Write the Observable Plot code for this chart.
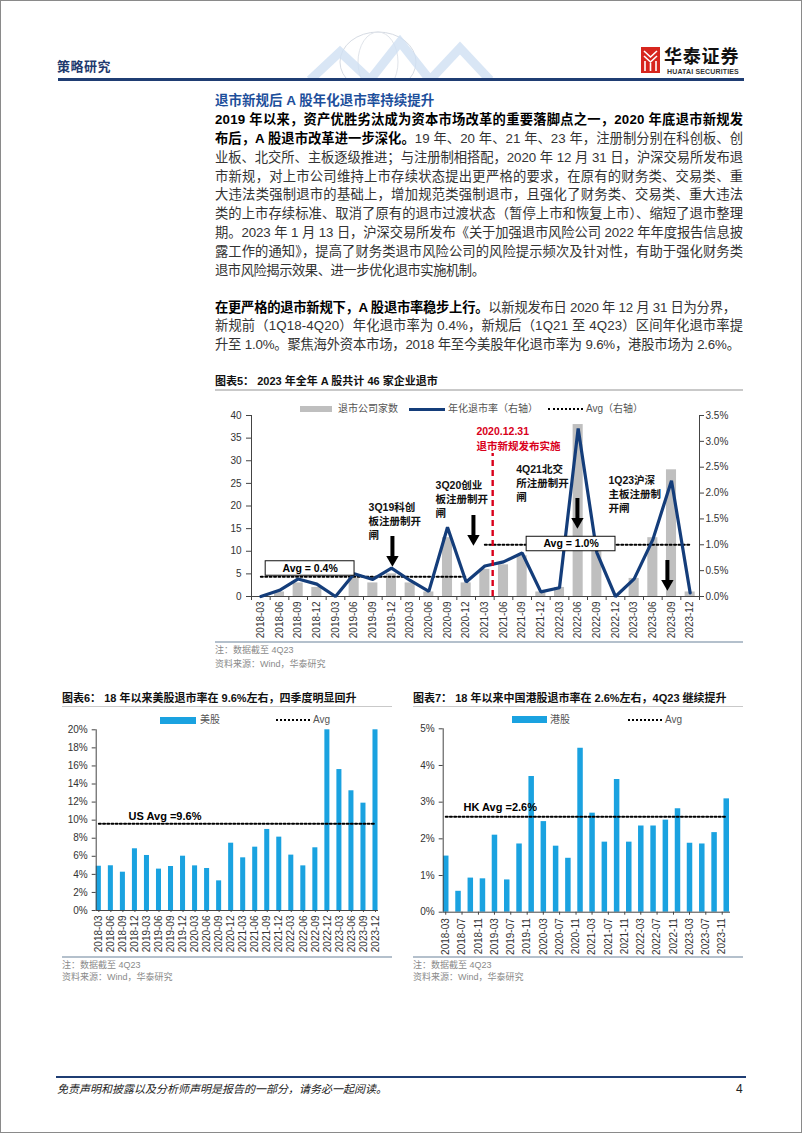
<!DOCTYPE html>
<html><head><meta charset="utf-8">
<script src="https://cdn.jsdelivr.net/npm/d3@7"></script>
<script src="https://cdn.jsdelivr.net/npm/@observablehq/plot@0.6"></script>
<style>
html,body{margin:0;padding:0;background:#fff;}
body{width:802px;height:1133px;position:relative;overflow:hidden;font-family:"Liberation Sans","Noto Sans CJK SC",sans-serif;color:#222;}
.abs{position:absolute;}
.border{position:absolute;left:0;top:0;width:800px;height:1131px;border:1px solid #8a8a8a;pointer-events:none;}
.txt{left:215px;width:560px;font-size:13.3px;line-height:18.9px;color:#333;}
.txt div{white-space:nowrap;height:18.9px;}
.txt span{display:inline-block;white-space:nowrap;}
.txt b{color:#000;}
.ttl{font-size:11px;font-weight:bold;color:#111;line-height:14px;white-space:nowrap;}
.uline{height:1.5px;background:#c9c9c9;}
.nline{height:1.5px;background:#b4c0cc;}
.note{font-size:9px;color:#8a8a8a;line-height:12px;white-space:nowrap;}
.leg{font-size:10px;color:#555;line-height:12px;white-space:nowrap;}
.sw{position:absolute;}
</style></head>
<body>
<div class="border"></div>

<!-- header -->
<div class="abs" style="left:57px;top:56px;font-size:13px;font-weight:bold;color:#1f3a6e;letter-spacing:0.5px;">策略研究</div>
<svg class="abs" style="left:300px;top:30px" width="240" height="50">
  <ellipse cx="78" cy="32" rx="38" ry="30" fill="none" stroke="#d6dbe3" stroke-width="1"/>
  <ellipse cx="78" cy="32" rx="20" ry="30" fill="none" stroke="#e0e4ea" stroke-width="1"/>
  <polyline points="10,50 40,22 70,50 100,12 130,50 160,18 190,50" fill="none" stroke="#cfe0f2" stroke-width="9" opacity="0.8"/>
</svg>
<svg class="abs" style="left:641px;top:47px" width="20" height="27">
  <rect x="0" y="0" width="19" height="26" fill="#d7261e"/>
  <path d="M3 4 L9.5 10 L16 4 M3 9 L9.5 15 L16 9 M4 14 L4 24 M9.5 16 L9.5 24 M15 14 L15 24" stroke="#fff" stroke-width="1.6" fill="none"/>
</svg>
<div class="abs" style="left:664px;top:45px;font-size:18px;font-weight:bold;color:#111;font-family:'Noto Sans CJK SC';line-height:20px;height:20px;letter-spacing:0.8px;">华泰证券</div>
<div class="abs" style="left:667px;top:68px;font-size:7px;font-weight:bold;color:#333;line-height:8px;letter-spacing:0.15px;">HUATAI SECURITIES</div>
<div class="abs" style="left:58px;top:78px;width:686px;height:2.5px;background:#1f3d73;"></div>

<!-- text -->
<div class="abs" style="left:215px;top:91px;font-size:13.5px;font-weight:bold;color:#1d4f9b;line-height:19px;white-space:nowrap;">退市新规后 A 股年化退市率持续提升</div>
<div class="abs txt" style="top:110.9px;">
<div><span class="fit" data-w="528"><b>2019 年以来，资产优胜劣汰成为资本市场改革的重要落脚点之一，2020 年底退市新规发</b></span></div>
<div><span class="fit" data-w="528"><b>布后，A 股退市改革进一步深化。</b>19 年、20 年、21 年、23 年，注册制分别在科创板、创</span></div>
<div><span class="fit" data-w="528">业板、北交所、主板逐级推进；与注册制相搭配，2020 年 12 月 31 日，沪深交易所发布退</span></div>
<div><span class="fit" data-w="528">市新规，对上市公司维持上市存续状态提出更严格的要求，在原有的财务类、交易类、重</span></div>
<div><span class="fit" data-w="528">大违法类强制退市的基础上，增加规范类强制退市，且强化了财务类、交易类、重大违法</span></div>
<div><span class="fit" data-w="528">类的上市存续标准、取消了原有的退市过渡状态（暂停上市和恢复上市）、缩短了退市整理</span></div>
<div><span class="fit" data-w="528">期。2023 年 1 月 13 日，沪深交易所发布《关于加强退市风险公司 2022 年年度报告信息披</span></div>
<div><span class="fit" data-w="528">露工作的通知》，提高了财务类退市风险公司的风险提示频次及针对性，有助于强化财务类</span></div>
<div><span class="fit" data-w="270">退市风险揭示效果、进一步优化退市实施机制。</span></div>
</div>
<div class="abs txt" style="top:298.5px;">
<div><span class="fit" data-w="521"><b>在更严格的退市新规下，A 股退市率稳步上行。</b>以新规发布日 2020 年 12 月 31 日为分界，</span></div>
<div><span class="fit" data-w="528">新规前（1Q18-4Q20）年化退市率为 0.4%，新规后（1Q21 至 4Q23）区间年化退市率提</span></div>
<div><span class="fit" data-w="525">升至 1.0%。聚焦海外资本市场，2018 年至今美股年化退市率为 9.6%，港股市场为 2.6%。</span></div>
</div>

<!-- chart 5 -->
<div class="abs ttl" style="left:215px;top:374px;">图表5：&nbsp;2023 年全年 A 股共计 46 家企业退市</div>
<div class="abs uline" style="left:215px;top:389px;width:528px;"></div>
<div class="sw" style="left:300px;top:406px;width:32px;height:6px;background:#bfbfbf;"></div>
<div class="abs leg" style="left:338px;top:403px;">退市公司家数</div>
<div class="sw" style="left:409px;top:407.5px;width:36px;height:3.5px;background:#143d7a;"></div>
<div class="abs leg" style="left:448px;top:403px;">年化退市率（右轴）</div>
<div class="sw" style="left:548px;top:408px;width:35px;border-top:2px dotted #000;"></div>
<div class="abs leg" style="left:586px;top:403px;">Avg（右轴）</div>
<div id="c5" class="abs" style="left:200px;top:405px;"></div>
<div class="abs nline" style="left:215px;top:641px;width:528px;"></div>
<div class="abs note" style="left:215px;top:644px;">注：数据截至 4Q23</div>
<div class="abs note" style="left:215px;top:657.5px;">资料来源：Wind，华泰研究</div>

<!-- chart 6 -->
<div class="abs ttl" style="left:62px;top:691px;">图表6：&nbsp;18 年以来美股退市率在 9.6%左右，四季度明显回升</div>
<div class="abs uline" style="left:62px;top:705.5px;width:330px;"></div>
<div class="sw" style="left:160px;top:716.5px;width:36px;height:7px;background:#1aa2e0;"></div>
<div class="abs leg" style="left:200px;top:714px;">美股</div>
<div class="sw" style="left:276px;top:719px;width:34px;border-top:2px dotted #000;"></div>
<div class="abs leg" style="left:313px;top:714px;">Avg</div>
<div id="c6" class="abs" style="left:30px;top:725px;"></div>
<div class="abs nline" style="left:62px;top:956px;width:330px;"></div>
<div class="abs note" style="left:62px;top:959px;">注：数据截至 4Q23</div>
<div class="abs note" style="left:62px;top:971px;">资料来源：Wind，华泰研究</div>

<!-- chart 7 -->
<div class="abs ttl" style="left:413px;top:691px;">图表7：&nbsp;18 年以来中国港股退市率在 2.6%左右，4Q23 继续提升</div>
<div class="abs uline" style="left:413px;top:705.5px;width:330px;"></div>
<div class="sw" style="left:512px;top:716px;width:35px;height:7px;background:#1aa2e0;"></div>
<div class="abs leg" style="left:550px;top:713.5px;">港股</div>
<div class="sw" style="left:628px;top:718.5px;width:34px;border-top:2px dotted #000;"></div>
<div class="abs leg" style="left:665px;top:713.5px;">Avg</div>
<div id="c7" class="abs" style="left:400px;top:725px;"></div>
<div class="abs nline" style="left:413px;top:956px;width:330px;"></div>
<div class="abs note" style="left:413px;top:959px;">注：数据截至 4Q23</div>
<div class="abs note" style="left:413px;top:971px;">资料来源：Wind，华泰研究</div>

<!-- footer -->
<div class="abs" style="left:56px;top:1075.5px;width:690px;height:2.5px;background:#1f3d73;"></div>
<div class="abs" style="left:57px;top:1082px;font-size:11px;font-style:italic;color:#222;line-height:15px;white-space:nowrap;">免责声明和披露以及分析师声明是报告的一部分，请务必一起阅读。</div>
<div class="abs" style="left:736px;top:1082px;font-size:12px;color:#222;line-height:15px;">4</div>

<script>
// ---------- data ----------
const quarters = ["2018-03","2018-06","2018-09","2018-12","2019-03","2019-06","2019-09","2019-12","2020-03","2020-06","2020-09","2020-12","2021-03","2021-06","2021-09","2021-12","2022-03","2022-06","2022-09","2022-12","2023-03","2023-06","2023-09","2023-12"];
// 图表5
const delistCount = [0,1,3,2,0,4,3,5,3,1,13,3,6,7,9,1,2,38,10,0,4,13,28,1];
const delistRate = [0,0.12,0.34,0.24,0,0.44,0.33,0.55,0.31,0.10,1.34,0.28,0.59,0.67,0.84,0.09,0.17,3.25,0.85,0,0.34,1.10,2.24,0.07];
const avgPreRate = 0.38;   // 1Q18-4Q20
const avgPostRate = 1.0;   // 1Q21-4Q23
const leftTicks5 = [0,5,10,15,20,25,30,35,40];
const rightTicks5 = [0,0.5,1,1.5,2,2.5,3,3.5];
// 图表6
const usRate = [4.9,4.95,4.24,6.83,6.09,4.58,4.87,6.01,4.94,4.65,3.28,7.45,5.83,7.01,8.97,8.12,6.13,4.94,6.94,20,15.6,13.25,11.88,20];
const usAvg = 9.6;
const usTicks = [0,2,4,6,8,10,12,14,16,18,20];
// 图表7
const hkRate = [1.53,0.57,0.93,0.91,2.10,0.88,1.86,3.70,2.47,1.80,1.47,4.47,2.70,1.91,3.62,1.91,2.35,2.35,2.51,2.82,1.88,1.86,2.17,3.09];
const hkAvg = 2.6;
const hkTickLabels = ["2018-03","2018-07","2018-11","2019-03","2019-07","2019-11","2020-03","2020-07","2020-11","2021-03","2021-07","2021-11","2022-03","2022-07","2022-11","2023-03","2023-07","2023-11"];
const hkYTicks = [0,1,2,3,4,5];

// annotations (chart 5, in axis units: x = quarter index, y = left-axis value)
const policyNotes = [
  {text:"3Q19科创\n板注册制开\n闸", x:5.77, y:21.0},
  {text:"3Q20创业\n板注册制开\n闸", x:9.36, y:25.9},
  {text:"4Q21北交\n所注册制开\n闸", x:13.68, y:29.4},
  {text:"1Q23沪深\n主板注册制\n开闸", x:18.62, y:27.0}
];
const policyArrows = [{x:7.05, from:13.26, to:6.63},{x:11.39, from:17.9, to:11.27},{x:16.96, from:21.66, to:15.03},{x:21.78, from:7.96, to:1.33}];
const newRule = {x:12.42, top:31.6, label:"2020.12.31\n退市新规发布实施", labelX:11.55, labelY:37.9};

// justify body lines to the reference widths
document.querySelectorAll(".fit").forEach(el => {
  el.style.letterSpacing = "0px";
  const w = el.getBoundingClientRect().width;
  const n = [...el.textContent].length;
  const target = +el.dataset.w;
  el.style.letterSpacing = ((target - w) / (n - 1)) + "px";
});

const FONT = '"Liberation Sans","Noto Sans CJK SC",sans-serif';
const k = 40/3.5; // right axis (rate %) -> left axis units

// ---------- chart 5 ----------
const rows5 = quarters.map((q,i)=>({i, q, count: delistCount[i], rate: delistRate[i]}));
const avgLines5 = [
  {i:0, v:avgPreRate, g:"pre"},{i:11, v:avgPreRate, g:"pre"},
  {i:12, v:avgPostRate, g:"post"},{i:23, v:avgPostRate, g:"post"}
];
const avgBoxes5 = [
  {text:"Avg = " + (Math.round(avgPreRate*10)/10).toFixed(1) + "%", x:2.64, y:6.19},
  {text:"Avg = " + avgPostRate.toFixed(1) + "%", x:16.62, y:11.6}
];
const c5 = Plot.plot({
  width:545, height:236, marginTop:10, marginBottom:45, marginLeft:51, marginRight:46,
  x:{type:"linear", domain:[-0.5,23.5], axis:null},
  y:{domain:[0,40], axis:null},
  style:{fontFamily:FONT, fontSize:"10px", color:"#333", background:"transparent", overflow:"visible"},
  marks:[
    Plot.rectY(rows5, {x1:d=>d.i-0.5, x2:d=>d.i+0.5, y:"count", fill:"#bfbfbf", insetLeft:4.3, insetRight:4.3}),
    Plot.ruleY([0], {stroke:"#444"}),
    Plot.ruleX([-0.5, 23.5], {stroke:"#444"}),
    Plot.axisY({anchor:"left", ticks:leftTicks5, tickSize:5, tickPadding:5, stroke:"#444", label:null}),
    Plot.axisY({anchor:"right", ticks:rightTicks5.map(v=>v*k), tickFormat:v=>(v/k).toFixed(1)+"%", tickSize:4, tickPadding:2, stroke:"#444", label:null}),
    Plot.axisX({ticks:d3.range(25).map(i=>i-0.5), tickFormat:()=>"", tickSize:4, stroke:"#444", label:null}),
    Plot.axisX({ticks:d3.range(24), tickFormat:i=>quarters[i], tickRotate:-90, tickSize:0, tickPadding:5, fontSize:10, label:null}),
    Plot.line(avgLines5, {x:"i", y:d=>d.v*k, z:"g", stroke:"#000", strokeWidth:2, strokeDasharray:"2,2.4"}),
    Plot.line(rows5, {x:"i", y:d=>d.rate*k, stroke:"#143d7a", strokeWidth:3.2, strokeLinejoin:"miter"}),
    Plot.ruleX([newRule], {x:"x", y1:0, y2:"top", stroke:"#d9001b", strokeWidth:2.4, strokeDasharray:"6,4"}),
    Plot.text([newRule], {x:"labelX", y:"labelY", text:"label", textAnchor:"start", lineAnchor:"top", lineHeight:1.4, fill:"#d9001b", fontWeight:"bold", fontSize:10.5}),
    Plot.rect(avgBoxes5, {x1:d=>d.x-2.38, x2:d=>d.x+2.38, y1:d=>d.y-1.6, y2:d=>d.y+1.6, fill:"#fff", stroke:"#111", strokeWidth:1}),
    Plot.text(avgBoxes5, {x:"x", y:"y", text:"text", fontWeight:"bold", fontSize:10.5, fill:"#000"}),
    Plot.text(policyNotes, {x:"x", y:"y", text:"text", textAnchor:"start", lineAnchor:"top", lineHeight:1.33, fontWeight:"bold", fontSize:10.5, fill:"#111"}),
    Plot.ruleX(policyArrows, {x:"x", y1:"from", y2:d=>d.to+2, stroke:"#000", strokeWidth:4}),
    Plot.dot(policyArrows, {x:"x", y:"to", dy:-7, symbol:"triangle", rotate:180, r:4.6, fill:"#000", stroke:"none"})
  ]
});
document.getElementById("c5").appendChild(c5);

// ---------- chart 6 ----------
const rows6 = quarters.map((q,i)=>({i, q, v: usRate[i]}));
const xd6 = [-0.22, 23.25];
const c6 = Plot.plot({
  width:370, height:230, marginTop:4.3, marginBottom:45, marginLeft:65.7, marginRight:22,
  x:{type:"linear", domain:xd6, axis:null},
  y:{domain:[0,20], axis:null},
  style:{fontFamily:FONT, fontSize:"10px", color:"#333", background:"transparent", overflow:"visible"},
  marks:[
    Plot.rectY(rows6, {x1:d=>d.i-0.5, x2:d=>d.i+0.5, y:"v", fill:"#1aa2e0", insetLeft:3.5, insetRight:3.5}),
    Plot.ruleY([0], {stroke:"#444"}),
    Plot.ruleX([xd6[0]], {stroke:"#444"}),
    Plot.axisY({ticks:usTicks, tickFormat:d=>d+"%", tickSize:4, tickPadding:4.5, stroke:"#444", label:null}),
    Plot.axisX({ticks:d3.range(24), tickFormat:i=>quarters[i], tickRotate:-90, tickSize:2, tickPadding:3, stroke:"#444", fontSize:10, label:null}),
    Plot.line([{i:0,v:usAvg},{i:23,v:usAvg}], {x:"i", y:"v", stroke:"#000", strokeWidth:2, strokeDasharray:"2,2.2"}),
    Plot.text([{t:"US Avg =" + usAvg + "%", i:2.47, v:10.4}], {x:"i", y:"v", text:"t", textAnchor:"start", fontWeight:"bold", fontSize:11, fill:"#000"})
  ]
});
document.getElementById("c6").appendChild(c6);

// ---------- chart 7 ----------
const parseYM = s => new Date(Date.UTC(+s.slice(0,4), +s.slice(5,7)-1, 1));
const rows7 = quarters.map((q,i)=>({date: parseYM(q), v: hkRate[i]}));
const xd7 = [new Date(Date.UTC(2018,1,10)), new Date(Date.UTC(2024,0,2))];
const c7 = Plot.plot({
  width:370, height:230, marginTop:3.3, marginBottom:43.3, marginLeft:42.7, marginRight:40,
  x:{type:"utc", domain:xd7, axis:null},
  y:{domain:[0,5], axis:null},
  style:{fontFamily:FONT, fontSize:"10px", color:"#333", background:"transparent", overflow:"visible"},
  marks:[
    Plot.ruleX(rows7, {x:"date", y1:0, y2:"v", stroke:"#1aa2e0", strokeWidth:5.5}),
    Plot.ruleY([0], {stroke:"#444"}),
    Plot.ruleX([xd7[0]], {stroke:"#444"}),
    Plot.axisY({ticks:hkYTicks, tickFormat:d=>d+"%", tickSize:4, tickPadding:4.5, stroke:"#444", label:null}),
    Plot.axisX({ticks:hkTickLabels.map(parseYM), tickFormat:d3.utcFormat("%Y-%m"), tickRotate:-90, tickSize:3, tickPadding:3, stroke:"#444", fontSize:10, label:null}),
    Plot.line([{date:rows7[0].date,v:hkAvg},{date:rows7[23].date,v:hkAvg}], {x:"date", y:"v", stroke:"#000", strokeWidth:2, strokeDasharray:"2,2.2"}),
    Plot.text([{t:"HK Avg =" + hkAvg + "%", date:new Date(Date.UTC(2018,6,12)), v:2.86}], {x:"date", y:"v", text:"t", textAnchor:"start", fontWeight:"bold", fontSize:11, fill:"#000"})
  ]
});
document.getElementById("c7").appendChild(c7);
</script>
</body></html>
